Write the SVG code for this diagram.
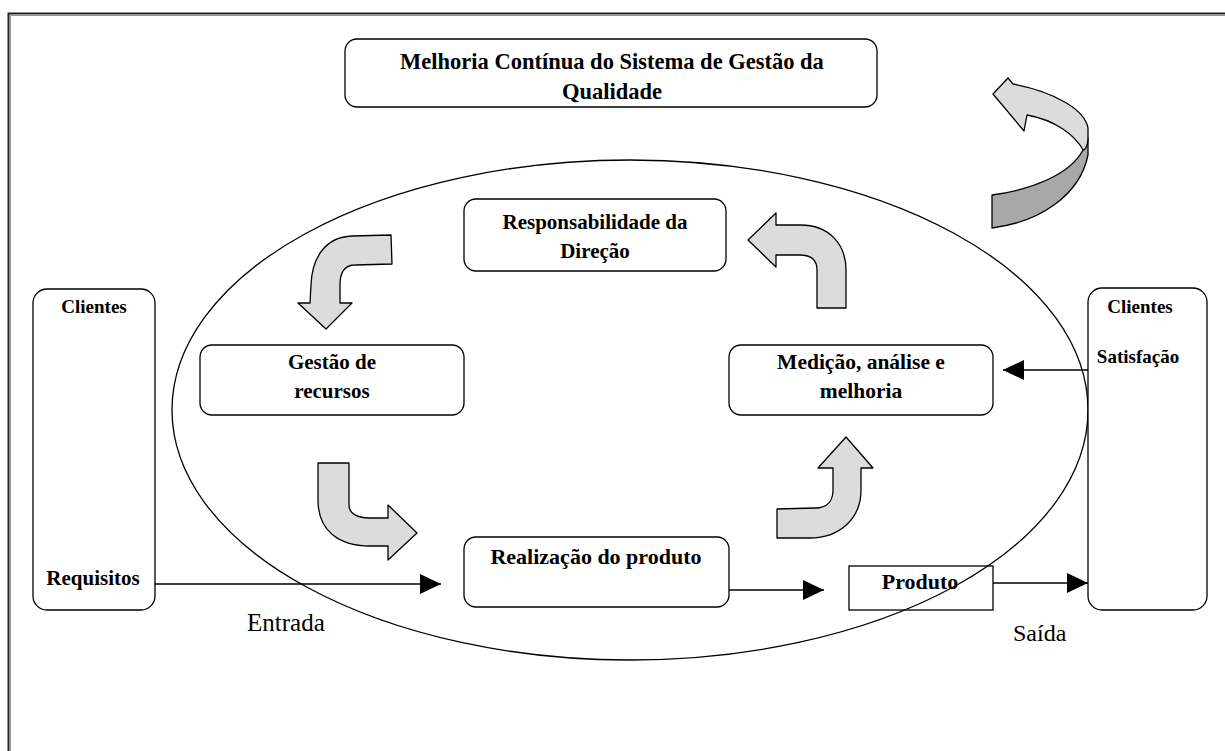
<svg xmlns="http://www.w3.org/2000/svg" width="1225" height="751" viewBox="0 0 1225 751">
<style>
.box{fill:#fff;stroke:#000;stroke-width:1.3}
.t{font-family:"Liberation Serif","Times New Roman",serif;font-size:21px;font-weight:bold;text-anchor:middle;fill:#000}
.n{font-family:"Liberation Serif","Times New Roman",serif;font-size:24px;fill:#000}
.ba{fill:#dcdcdc;stroke:#000;stroke-width:1.3;stroke-linejoin:round}
.ln{stroke:#000;stroke-width:1.3;fill:none}
</style>
<defs>
<marker id="ah" markerUnits="userSpaceOnUse" markerWidth="22" markerHeight="22" viewBox="0 0 22 22" refX="21" refY="11" orient="auto">
<path d="M0,1 L21,11 L0,21 Z" fill="#000"/>
</marker>
</defs>
<rect x="8.5" y="13.5" width="1400" height="900" fill="#fff" stroke="#222" stroke-width="2"/>
<line x1="10" y1="15.5" x2="1225" y2="15.5" stroke="#999" stroke-width="1"/>
<line x1="10.5" y1="15" x2="10.5" y2="751" stroke="#999" stroke-width="1"/>

<g id="melhoria">
<rect class="box" x="345" y="39" width="532" height="68" rx="12"/>
<text class="t" x="612" y="69" style="font-size:22.5px">Melhoria Contínua do Sistema de Gestão da</text>
<text class="t" x="612" y="99" style="font-size:22.5px">Qualidade</text>
</g>
<g id="produto">
<rect class="box" x="849" y="566" width="144" height="44"/>
<text class="t" x="920" y="589" style="font-size:22px">Produto</text>
</g>
<g id="ciclo">
<ellipse cx="630" cy="410" rx="458" ry="250" fill="none" stroke="#000" stroke-width="1.3"/>
</g>
<g id="responsabilidade">
<rect class="box" x="464" y="199" width="262" height="72" rx="12"/>
<text class="t" x="595" y="229">Responsabilidade da</text>
<text class="t" x="595" y="258">Direção</text>
</g>
<g id="gestao">
<rect class="box" x="200" y="345" width="264" height="70" rx="12"/>
<text class="t" x="332" y="369">Gestão de</text>
<text class="t" x="332" y="398">recursos</text>
</g>
<g id="medicao">
<rect class="box" x="729" y="345" width="264" height="70" rx="12"/>
<text class="t" x="861" y="369" style="font-size:21.5px">Medição, análise e</text>
<text class="t" x="861" y="398" style="font-size:21.5px">melhoria</text>
</g>
<g id="realizacao">
<rect class="box" x="464" y="537" width="265" height="70" rx="12"/>
<text class="t" x="596" y="564" style="font-size:22px">Realização do produto</text>
</g>
<g id="clientes-entrada">
<rect class="box" x="33" y="289" width="122" height="321" rx="14"/>
<text class="t" x="94" y="313" style="font-size:19px">Clientes</text>
<text class="t" x="93" y="585">Requisitos</text>
</g>
<g id="clientes-saida">
<rect class="box" x="1088" y="288" width="119" height="322" rx="14"/>
<text class="t" x="1140" y="313" style="font-size:19px">Clientes</text>
<text class="t" x="1138" y="363" style="font-size:19px">Satisfação</text>
</g>

<g id="setas-ciclo">
<path class="ba" d="M391,235 L352,236 C325,237 312,258 311,285 L310,303 L298,303 L326,329 L352,303 L340,303 L340,285 C340,272 345,265 355,265 L392,264 Z"/>
<path class="ba" d="M318,463 L349,463 L349,505 C349,514 358,518 370,518 L388,518 L388,505 L417,533 L388,560 L388,546 L370,546 C338,546 318,530 318,500 Z"/>
<path class="ba" d="M846,308 L817,308 L817,270 C817,260 812,255 800,255 L776,255 L776,267 L748,240 L776,213 L776,225 L800,225 C830,225 846,245 846,270 Z"/>
<path class="ba" d="M777,509 L815,508 C828,508 833,500 833,490 L833,468 L818,468 L846,437 L873,468 L861,468 L861,490 C861,520 838,538 810,538 L777,538 Z"/>
</g>
<g id="seta-melhoria">
<path d="M992,195 C1030,190 1070,175 1083,150 C1086,146 1088,142 1088,138 L1088,155 C1080,195 1040,222 992,228 Z" fill="#a8a8a8" stroke="#000" stroke-width="1.3" stroke-linejoin="round"/>
<path class="ba" d="M993,94 L1008,78 L1013,84 C1055,92 1085,110 1088,128 L1088,138 C1088,146 1085,150 1083,150 C1075,135 1055,120 1027,115 L1024,131 Z"/>
</g>

<g id="conectores">
<line class="ln" x1="155" y1="584" x2="441" y2="584" marker-end="url(#ah)"/>
<line class="ln" x1="729" y1="590" x2="824" y2="590" marker-end="url(#ah)"/>
<line class="ln" x1="993" y1="583" x2="1088" y2="583" marker-end="url(#ah)"/>
<line class="ln" x1="1088" y1="370" x2="1003" y2="370" marker-end="url(#ah)"/>
</g>
<text class="n" x="247" y="631" style="font-size:25px">Entrada</text>
<text class="n" x="1013" y="641">Saída</text>
</svg>
